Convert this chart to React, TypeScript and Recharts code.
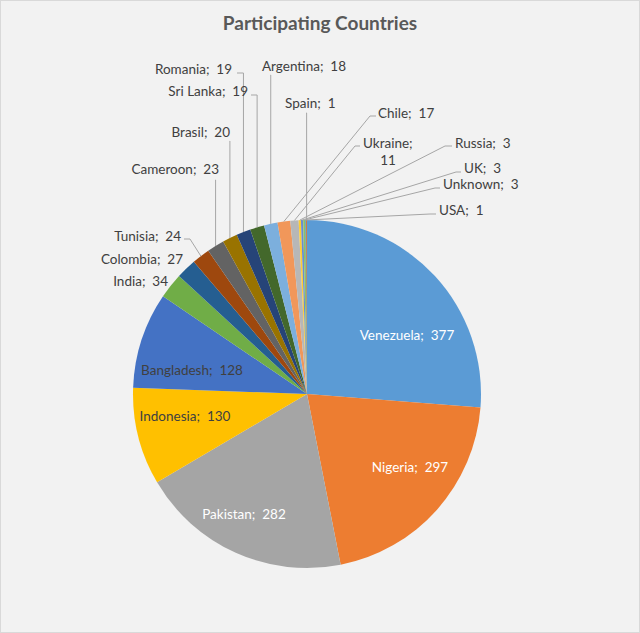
import { PieChart, Pie, Cell } from "recharts"

const countries = [
  "Venezuela", "Nigeria", "Pakistan", "Indonesia", "Bangladesh", "India", "Colombia",
  "Tunisia", "Cameroon", "Brasil", "Romania", "Sri Lanka", "Argentina", "Chile",
  "Ukraine", "Russia", "UK", "Unknown", "USA", "Spain",
]
const participants = [377, 297, 282, 130, 128, 34, 27, 24, 23, 20, 19, 19, 18, 17, 11, 3, 3, 3, 1, 1]
const sliceColors = [
  "#5B9BD5", "#ED7D31", "#A5A5A5", "#FFC000", "#4472C4", "#70AD47", "#255E91",
  "#9E480E", "#636363", "#997300", "#264478", "#43682B", "#7CAFDD", "#F1975A",
  "#B7B7B7", "#FFCD33", "#698ED0", "#8CC168", "#327DC2", "#D26012",
]

const chartData = countries.map((name, i) => ({ name, value: participants[i] }))

const RADIAN = Math.PI / 180
const FONT = "Lato, 'Open Sans', sans-serif"
const LEADER = "#A6A6A6"

// label placement, offsets from the pie centre (Excel "best fit" look)
type Spot = {
  dx: number
  dy: number
  anchor: "start" | "middle" | "end"
  fill?: string
  line?: "v" | "d"
  ax?: number
  ay?: number
  ex?: number
  wrap?: boolean
}
const spots: Record<string, Spot> = {
  Venezuela: { dx: 100, dy: -59, anchor: "middle", fill: "#FFFFFF" },
  Nigeria: { dx: 103, dy: 73, anchor: "middle", fill: "#FFFFFF" },
  Pakistan: { dx: -63, dy: 120, anchor: "middle", fill: "#FFFFFF" },
  Indonesia: { dx: -122, dy: 22, anchor: "middle" },
  Bangladesh: { dx: -115, dy: -24, anchor: "middle" },
  India: { dx: -139, dy: -113, anchor: "end" },
  Colombia: { dx: -124, dy: -135, anchor: "end" },
  Tunisia: { dx: -126, dy: -158, anchor: "end", line: "d", ax: -123, ay: -155, ex: -117 },
  Cameroon: { dx: -88, dy: -225, anchor: "end", line: "v", ax: -91, ay: -214 },
  Brasil: { dx: -77, dy: -262, anchor: "end", line: "v", ax: -77, ay: -253 },
  Romania: { dx: -75, dy: -325, anchor: "end", line: "v", ax: -70, ay: -321 },
  "Sri Lanka": { dx: -59, dy: -303, anchor: "end", line: "v", ax: -56, ay: -299 },
  Argentina: { dx: -45, dy: -328, anchor: "start", line: "v", ax: -36, ay: -319 },
  Chile: { dx: 71, dy: -281, anchor: "start", line: "d", ax: 69, ay: -278, ex: 63 },
  Ukraine: { dx: 56, dy: -251, anchor: "start", line: "d", ax: 53, ay: -248, ex: 48, wrap: true },
  Russia: { dx: 148, dy: -251, anchor: "start", line: "d", ax: 145, ay: -248, ex: 138 },
  UK: { dx: 157, dy: -226, anchor: "start", line: "d", ax: 154, ay: -222, ex: 149 },
  Unknown: { dx: 136, dy: -210, anchor: "start", line: "d", ax: 133, ay: -206, ex: 128 },
  USA: { dx: 132, dy: -184, anchor: "start", line: "d", ax: 129, ay: -180, ex: 123 },
  Spain: { dx: -22, dy: -291, anchor: "start", line: "v", ax: -1, ay: -281 },
}

function renderLabel(props: any) {
  const { cx, cy, midAngle, outerRadius, name, value } = props
  const s = spots[name]
  if (!s) return null
  const x = cx + s.dx
  const y = cy + s.dy
  const px = cx + outerRadius * Math.cos(-midAngle * RADIAN)
  const py = cy + outerRadius * Math.sin(-midAngle * RADIAN)
  let path: string | null = null
  if (s.line === "v") {
    path = `M${cx + s.ax!},${cy + s.ay!}L${px},${cy + s.ay!}L${px},${py}`
  } else if (s.line === "d") {
    path = `M${cx + s.ax!},${cy + s.ay!}L${cx + s.ex!},${cy + s.ay!}L${px},${py}`
  }
  const fill = s.fill ?? "#404040"
  const style = { fontFamily: FONT, fontSize: 13.5, whiteSpace: "pre" as const }
  return (
    <g key={name}>
      {path && <path d={path} stroke={LEADER} strokeWidth={1} fill="none" />}
      {s.wrap ? (
        <>
          <text x={x} y={y} textAnchor={s.anchor} dominantBaseline="central" fill={fill} style={style}>
            {`${name};`}
          </text>
          <text x={x + 25} y={y + 17} textAnchor="middle" dominantBaseline="central" fill={fill} style={style}>
            {`${value}`}
          </text>
        </>
      ) : (
        <text x={x} y={y} textAnchor={s.anchor} dominantBaseline="central" fill={fill} style={style}>
          {`${name};  ${value}`}
        </text>
      )}
    </g>
  )
}

export default function App() {
  return (
    <div
      style={{
        position: "absolute",
        left: 0,
        top: 0,
        width: 638,
        height: 631,
        background: "#F2F2F2",
        border: "1px solid #D9D9D9",
      }}
    >
      <div
        style={{
          position: "absolute",
          top: 8,
          left: 0,
          width: "100%",
          textAlign: "center",
          fontFamily: FONT,
          fontWeight: 700,
          fontSize: 19,
          color: "#595959",
          lineHeight: "28px",
        }}
      >
        Participating Countries
      </div>
      <PieChart
        width={638}
        height={631}
        margin={{ top: 0, right: 0, bottom: 0, left: 0 }}
        style={{ position: "absolute", left: 0, top: 0 }}
      >
        <Pie
          data={chartData}
          dataKey="value"
          nameKey="name"
          cx={306}
          cy={393}
          outerRadius={174}
          startAngle={90}
          endAngle={-270}
          stroke="none"
          label={renderLabel}
          labelLine={false}
          isAnimationActive={false}
        >
          {chartData.map((d, i) => (
            <Cell key={d.name} fill={sliceColors[i]} />
          ))}
        </Pie>
      </PieChart>
    </div>
  )
}
